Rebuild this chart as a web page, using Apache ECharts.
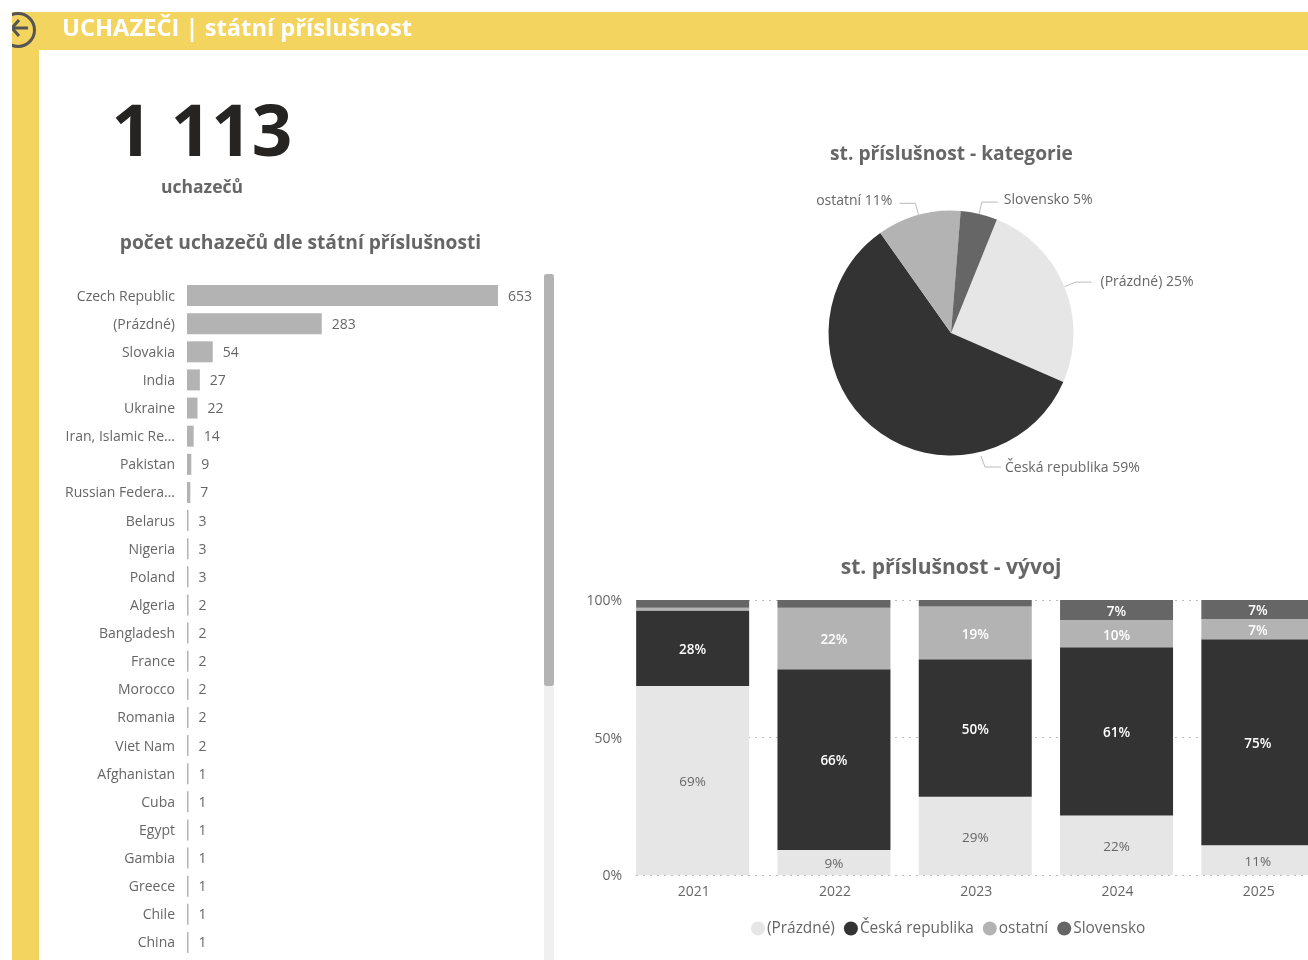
<!DOCTYPE html>
<html><head><meta charset="utf-8">
<style>html,body{margin:0;padding:0;background:#fff;overflow:hidden}#c{width:1308px;height:960px}</style>
<script src="https://cdn.jsdelivr.net/npm/echarts@6/dist/echarts.min.js"></script>
</head><body><div id="c"></div>
<script>
const countries = ["Czech Republic","(Prázdné)","Slovakia","India","Ukraine","Iran, Islamic Re…","Pakistan","Russian Federa…","Belarus","Nigeria","Poland","Algeria","Bangladesh","France","Morocco","Romania","Viet Nam","Afghanistan","Cuba","Egypt","Gambia","Greece","Chile","China"];
const counts = [653,283,54,27,22,14,9,7,3,3,3,2,2,2,2,2,2,1,1,1,1,1,1,1];
const pieNames = ["(Prázdné)","Česká republika","ostatní","Slovensko"];
const pieValues = [283,653,123,54];
const years = ["2021","2022","2023","2024","2025"];
const sharePrazdne = [68.7,9.1,28.5,21.6,10.8];
const shareCeska = [27.5,65.7,50,61.2,74.9];
const shareOstatni = [1,22.4,19.1,9.9,7.4];
const shareSlovensko = [2.8,2.8,2.4,7.3,6.9];
const totalLabel = "1 113";

const FONT = '"Open Sans", sans-serif';
const GREY = '#666666';
const YELLOW = '#F2D45F';
const COLORS = ['#E6E6E6','#333333','#B3B3B3','#666666'];
const chart = echarts.init(document.getElementById('c'), null, {renderer:'canvas'});

function stack(name, data, color, labelColor, weight){
  return {name, type:'bar', stack:'s', xAxisIndex:1, yAxisIndex:1, data, barWidth:113,
    itemStyle:{color},
    label:{show:true, position:'inside', offset:[0,2], color:labelColor, fontFamily:FONT, fontSize:13.5, fontWeight:weight,
      formatter:p=>p.value>=5?Math.round(p.value)+'%':''}};
}
const head = (text,x,y,size,color,weight)=>({type:'text',z:100,style:{text,x,y,fill:color,font:`${weight} ${size}px ${FONT}`,textAlign:'center',textVerticalAlign:'middle'}});
const lowered = pad=>({t:{color:GREY,fontFamily:FONT,fontSize:14,padding:[pad,0,0,0]}});

chart.setOption({
  animation:false,
  backgroundColor:'#fff',
  color:COLORS,
  graphic:{elements:[
    {type:'rect',z:0,shape:{x:12,y:12,width:1296,height:38},style:{fill:YELLOW}},
    {type:'rect',z:0,shape:{x:12,y:12,width:27,height:948},style:{fill:YELLOW}},
    {type:'circle',z:5,shape:{cx:18,cy:30,r:16.5},style:{fill:'none',stroke:'#555',lineWidth:3}},
    {type:'polyline',z:5,shape:{points:[[12,28],[28,28]]},style:{stroke:'#555',lineWidth:3,fill:'none'}},
    {type:'polyline',z:5,shape:{points:[[19,20],[12,28],[19,36]]},style:{stroke:'#555',lineWidth:3,fill:'none'}},
    {type:'rect',z:6,shape:{x:0,y:0,width:12,height:960},style:{fill:'#fff'}},
    {type:'rect',z:6,shape:{x:0,y:0,width:1308,height:12},style:{fill:'#fff'}},
    {type:'text',z:100,style:{text:'UCHAZEČI | státní příslušnost',x:62,y:29.5,fill:'#fff',font:`700 23.7px ${FONT}`,textAlign:'left',textVerticalAlign:'middle'}},
    head(totalLabel,202,136,71,'#252423',700),
    head('uchazečů',202,188,17.5,GREY,700),
    head('počet uchazečů dle státní příslušnosti',300.5,244,19.2,GREY,700),
    head('st. příslušnost - kategorie',951.5,155,19.2,GREY,700),
    head('st. příslušnost - vývoj',951,568,21,GREY,700),
    {type:'rect',z:1,shape:{x:544,y:274,width:10,height:686},style:{fill:'#F0F0F0'}},
    {type:'rect',z:2,shape:{x:544,y:274,width:10,height:412,r:3},style:{fill:'#B3B3B3'}},
    {type:'rect',z:1,shape:{x:622,y:595,width:14,height:285},style:{fill:'#fff'}}
  ]},
  grid:[
    {left:187,top:281.5,width:400,height:675,outerBoundsMode:'none'},
    {left:622,top:600,width:706.5,height:275,outerBoundsMode:'none'}
  ],
  xAxis:[
    {gridIndex:0,type:'value',min:0,max:840,show:false},
    {gridIndex:1,type:'category',data:years,axisLine:{show:false},axisTick:{show:false},
     axisLabel:{color:GREY,fontFamily:FONT,fontSize:14,margin:10,padding:[0,0,0,2]}}
  ],
  yAxis:[
    {gridIndex:0,type:'category',inverse:true,data:countries,axisLine:{show:false},axisTick:{show:false},
     axisLabel:{margin:12,interval:0,formatter:v=>`{t|${v}}`,rich:lowered(2)}},
    {gridIndex:1,type:'value',min:0,max:100,interval:50,axisLine:{show:false},axisTick:{show:false},
     axisLabel:{margin:0,formatter:v=>`{t|${v}%}`,rich:lowered(3)},
     splitLine:{show:true,lineStyle:{type:[2,5],color:'#BDBDBD',width:1}}}
  ],
  legend:{
    data:pieNames, left:746, top:916, icon:'circle', itemWidth:14, itemHeight:14, itemGap:9,
    textStyle:{color:GREY,fontFamily:FONT,fontSize:15.4,padding:[0,0,0,-3]}
  },
  series:[
    {name:'count',type:'bar',xAxisIndex:0,yAxisIndex:0,data:counts,barWidth:21,barMinHeight:1.5,
     itemStyle:{color:'#B3B3B3'},
     label:{show:true,position:'right',distance:10,offset:[0,1],color:GREY,fontFamily:FONT,fontSize:14}},
    {name:'kategorie',type:'pie',center:[951,333],radius:[0,122.5],startAngle:68,clockwise:true,
     percentPrecision:0,avoidLabelOverlap:false,
     data:pieNames.map((name,i)=>({name,value:pieValues[i],itemStyle:{color:COLORS[i]}})),
     label:{show:true,position:'outside',formatter:'{b} {d}%',color:GREY,fontFamily:FONT,fontSize:14},
     labelLine:{show:true,length:12,length2:16,lineStyle:{color:'#BBBBBB',width:1}},
     labelLayout:p=>{
       if(p.dataIndex===1) return {x:1005,y:468,align:'left',verticalAlign:'middle',labelLinePoints:[[981,456],[985,467],[1001,467]]};
       if(p.dataIndex===0) return {dx:4,dy:0};
       return {dx:p.dataIndex===3?1:-2,dy:-2};
     }},
    stack(pieNames[0],sharePrazdne,COLORS[0],GREY,400),
    stack(pieNames[1],shareCeska,COLORS[1],'#fff',600),
    stack(pieNames[2],shareOstatni,COLORS[2],'#fff',600),
    stack(pieNames[3],shareSlovensko,COLORS[3],'#fff',600)
  ]
});
</script></body></html>
